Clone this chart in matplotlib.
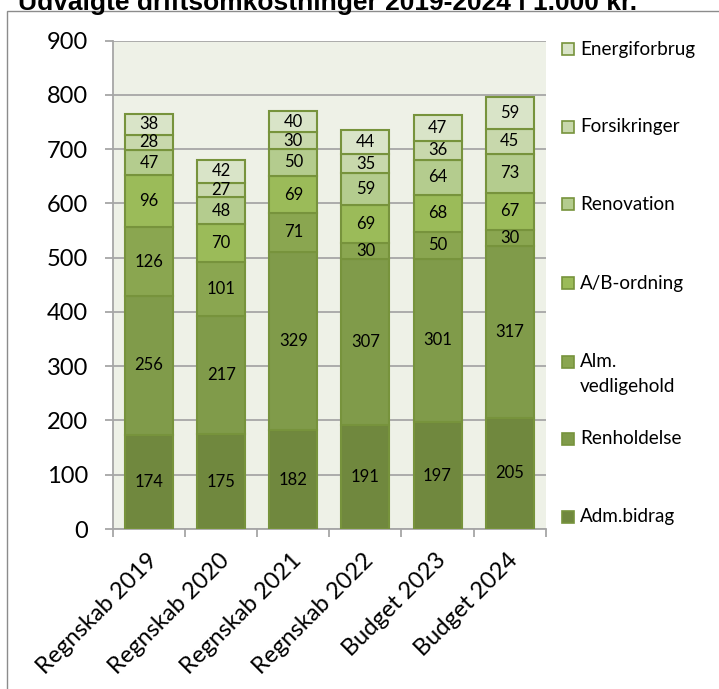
import numpy as np
import matplotlib
matplotlib.use('Agg')
import matplotlib.pyplot as plt
from matplotlib.patches import Rectangle
import matplotlib.ticker as ticker
import matplotlib.transforms as mtransforms

plt.rcParams['font.family'] = ['Lato', 'DejaVu Sans']

# Kategorier og serier (nederst -> øverst)
categories = ['Regnskab 2019', 'Regnskab 2020', 'Regnskab 2021',
              'Regnskab 2022', 'Budget 2023', 'Budget 2024']
series_names = ['Adm.bidrag', 'Renholdelse', 'Alm.\nvedligehold', 'A/B-ordning',
                'Renovation', 'Forsikringer', 'Energiforbrug']
adm_bidrag = [174, 175, 182, 191, 197, 205]
renholdelse = [256, 217, 329, 307, 301, 317]
alm_vedligehold = [126, 101, 71, 30, 50, 30]
ab_ordning = [96, 70, 69, 69, 68, 67]
renovation = [47, 48, 50, 59, 64, 73]
forsikringer = [28, 27, 30, 35, 36, 45]
energiforbrug = [38, 42, 40, 44, 47, 59]
series = [adm_bidrag, renholdelse, alm_vedligehold, ab_ordning,
          renovation, forsikringer, energiforbrug]
colors = ['#70883E', '#809B4A', '#8AA650', '#9BBB59', '#B4CC8E', '#C8D8AC', '#D9E4C8']
edge = '#77933C'

W, H = 719, 689
fig = plt.figure(figsize=(W / 100, H / 100), dpi=100)
ax = fig.add_axes([113 / W, 1 - 529 / H, (545.7 - 113) / W, (529 - 40.7) / H])
ax.set_facecolor('#EEF1E7')

x = np.arange(len(categories))
bottom = np.zeros(len(categories))
for vals, col in zip(series, colors):
    vals = np.array(vals)
    ax.bar(x, vals, width=0.666, bottom=bottom, color=col, edgecolor=edge,
           linewidth=1.5, zorder=3)
    for xi, b, v in zip(x, bottom, vals):
        ax.text(xi, b + v / 2, str(v), ha='center', va='center', fontsize=12,
                color='black', zorder=4)
    bottom += vals

ax.set_xlim(-0.5, len(categories) - 0.5)
ax.set_ylim(0, 900)
ax.yaxis.set_major_locator(ticker.MultipleLocator(100))
ax.grid(axis='y', color='#A6A6A6', linewidth=1.3, zorder=0)
ax.set_axisbelow(True)
for s in ['top', 'right']:
    ax.spines[s].set_visible(False)
for s in ['left', 'bottom']:
    ax.spines[s].set_color('#A6A6A6')
    ax.spines[s].set_linewidth(1.3)

ax.tick_params(axis='y', length=5.8, width=1.3, color='#A6A6A6', pad=12, labelsize=17)
ax.set_xticks(x)
ax.set_xticklabels(categories, rotation=45, ha='right', va='center',
                   rotation_mode='anchor', fontsize=17)
ax.tick_params(axis='x', which='major', length=0, pad=20)
ax.set_xticks(np.arange(-0.5, len(categories)), minor=True)
ax.tick_params(axis='x', which='minor', length=5.8, width=1.3, color='#A6A6A6')
# lidt forskydning til højre som i originalen
offset = mtransforms.ScaledTranslation(5 / 100, 0, fig.dpi_scale_trans)
for lbl in ax.get_xticklabels():
    lbl.set_transform(lbl.get_transform() + offset)

# Forklaring (øverst -> nederst)
legend_y = [49, 126.7, 204, 283, 361.7, 439, 516.7]
for name, col, yy in zip(series_names[::-1], colors[::-1], legend_y):
    fig.add_artist(Rectangle((562 / W, 1 - (yy + 6) / H), 12 / W, 12 / H,
                             facecolor=col, edgecolor=edge, linewidth=1.2,
                             transform=fig.transFigure))
    lines = name.split('\n')
    for k, ln in enumerate(lines):
        fig.text(580 / W, 1 - (yy + k * 25) / H, ln, ha='left', va='center',
                 fontsize=13.6)

# Ramme om diagrammet
fig.add_artist(Rectangle((7 / W, -0.05), 1.0, 1.05 - 11 / H, fill=False,
                         edgecolor='#8C8C8C', linewidth=1.0,
                         transform=fig.transFigure))

fig.text(18 / W, 1 - 10 / H, 'Udvalgte driftsomkostninger 2019-2024 i 1.000 kr.',
         ha='left', va='baseline', fontsize=19, fontweight='bold',
         family=['Liberation Sans', 'DejaVu Sans'])

fig.savefig('out.png', dpi=100)
